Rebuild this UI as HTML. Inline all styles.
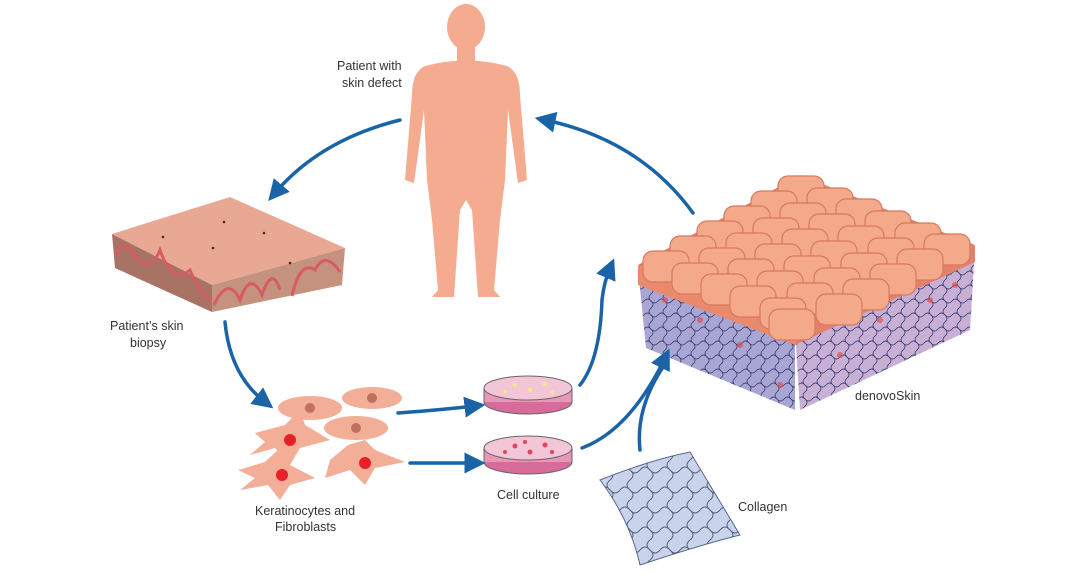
<!DOCTYPE html>
<html><head><meta charset="utf-8"><style>
html,body{margin:0;padding:0;background:#fff;width:1068px;height:580px;overflow:hidden}
svg text{font-family:"Liberation Sans",sans-serif;font-size:12.5px;fill:#333}
.tiles rect{width:46px;height:31px}
</style></head><body>
<svg width="1068" height="580" viewBox="0 0 1068 580" xmlns="http://www.w3.org/2000/svg">
<defs>
<marker id="ah" markerWidth="6" markerHeight="6" refX="3" refY="3" orient="auto" markerUnits="strokeWidth">
<path d="M0,0 L6,3 L0,6 Z" fill="#1a63a6"/></marker>
<pattern id="mesh" width="14" height="14" patternUnits="userSpaceOnUse">
<path d="M0,7 Q3.5,3 7,7 T14,7 M7,0 Q3,3.5 7,7 T7,14" fill="none" stroke="#3c3f78" stroke-width="0.9"/></pattern>
<pattern id="mesh2" width="20" height="20" patternUnits="userSpaceOnUse">
<path d="M0,10 Q5,4 10,10 T20,10 M10,0 Q4,5 10,10 T10,20" fill="none" stroke="#3a4060" stroke-width="1"/></pattern>
</defs>

<!-- human -->
<g fill="#f4ab8f">
<ellipse cx="466" cy="27" rx="19" ry="23"/>
<rect x="457" y="45" width="18" height="18"/>
<path d="M425,66 Q466,55 507,66 Q520,72 520,95 L527,180 L518,183 L508,110 L505,180 L500,220 L494,290 L500,297 L478,297 L472,210 L466,200 L460,210 L454,297 L432,297 L438,290 L432,220 L427,180 L424,110 L414,183 L405,180 L412,95 Q412,72 425,66Z"/>
</g>

<!-- skin biopsy -->
<path d="M112,234 L230,197 L345,248 L212,285 Z" fill="#e9a894"/>
<path d="M112,234 L212,285 L212,312 L115,268 Z" fill="#a87362"/>
<path d="M212,285 L345,248 L342,285 L212,312 Z" fill="#c59280"/>
<path d="M115,255 Q125,238 135,255 Q150,275 160,250 Q172,285 190,270 Q200,295 212,300" fill="none" stroke="#d85a62" stroke-width="3"/>
<path d="M214,305 Q228,275 240,300 Q250,270 262,295 Q272,265 280,290 M292,296 Q300,260 315,270 Q325,250 340,272" fill="none" stroke="#d85a62" stroke-width="3"/>
<g fill="#4a2a20"><circle cx="224" cy="222" r="1.3"/><circle cx="163" cy="237" r="1.3"/><circle cx="213" cy="248" r="1.3"/><circle cx="264" cy="233" r="1.3"/><circle cx="290" cy="263" r="1.3"/></g>

<!-- denovoSkin -->
<path d="M638,268 L795,330 L795,410 L646,348 Z" fill="#a9a6d4"/>
<path d="M795,330 L975,248 L970,330 L800,410 Z" fill="#c7b0d4"/>
<path d="M638,268 L795,330 L795,410 L646,348 Z" fill="url(#mesh)"/>
<path d="M795,330 L975,248 L970,330 L800,410 Z" fill="url(#mesh)"/>
<path d="M638,265 L800,175 L975,245 L795,330 Z" fill="#d9806a"/>
<path d="M638,265 L795,330 L795,345 L638,285 Z" fill="#e98a6c"/>
<path d="M795,330 L975,245 L975,262 L795,345 Z" fill="#e3826a"/>
<g class="tiles" fill="#f5a98b" stroke="#d8795c" stroke-width="1.2" transform="translate(-3,-3)">
<rect x="781" y="179" width="40" height="27" rx="10"/>
<rect x="754" y="194" width="40" height="27" rx="10"/>
<rect x="810" y="191" width="40" height="27" rx="10"/>
<rect x="727" y="209" width="40" height="27" rx="10"/>
<rect x="783" y="206" width="40" height="27" rx="10"/>
<rect x="839" y="202" width="40" height="27" rx="10"/>
<rect x="700" y="224" width="40" height="27" rx="10"/>
<rect x="756" y="221" width="40" height="27" rx="10"/>
<rect x="812" y="217" width="40" height="27" rx="10"/>
<rect x="868" y="214" width="40" height="27" rx="10"/>
<rect x="673" y="239" width="40" height="27" rx="10"/>
<rect x="729" y="236" width="40" height="27" rx="10"/>
<rect x="785" y="232" width="40" height="27" rx="10"/>
<rect x="841" y="229" width="40" height="27" rx="10"/>
<rect x="898" y="226" width="40" height="27" rx="10"/>
<rect x="646" y="254" width="40" height="27" rx="10"/>
<rect x="702" y="251" width="40" height="27" rx="10"/>
<rect x="758" y="247" width="40" height="27" rx="10"/>
<rect x="814" y="244" width="40" height="27" rx="10"/>
<rect x="871" y="241" width="40" height="27" rx="10"/>
<rect x="927" y="237" width="40" height="27" rx="10"/>
<rect x="675" y="266" width="40" height="27" rx="10"/>
<rect x="731" y="262" width="40" height="27" rx="10"/>
<rect x="787" y="259" width="40" height="27" rx="10"/>
<rect x="844" y="256" width="40" height="27" rx="10"/>
<rect x="900" y="252" width="40" height="27" rx="10"/>
<rect x="704" y="277" width="40" height="27" rx="10"/>
<rect x="760" y="274" width="40" height="27" rx="10"/>
<rect x="817" y="271" width="40" height="27" rx="10"/>
<rect x="873" y="267" width="40" height="27" rx="10"/>
<rect x="733" y="289" width="40" height="27" rx="10"/>
<rect x="790" y="286" width="40" height="27" rx="10"/>
<rect x="846" y="282" width="40" height="27" rx="10"/>
<rect x="763" y="301" width="40" height="27" rx="10"/>
<rect x="819" y="297" width="40" height="27" rx="10"/>
<rect x="772" y="312" width="40" height="27" rx="10"/>
</g>
<g fill="#e05050" opacity="0.7"><circle cx="700" cy="320" r="3"/><circle cx="740" cy="345" r="3"/><circle cx="880" cy="320" r="3"/><circle cx="930" cy="300" r="3"/><circle cx="840" cy="355" r="3"/><circle cx="665" cy="300" r="3"/><circle cx="780" cy="385" r="3"/><circle cx="955" cy="285" r="3"/></g>
<text x="855" y="400">denovoSkin</text>

<!-- cells -->
<g fill="#f3ae98">
<ellipse cx="310" cy="408" rx="32" ry="12"/>
<ellipse cx="372" cy="398" rx="30" ry="11"/>
<ellipse cx="356" cy="428" rx="32" ry="12"/>
<path d="M255,433 L285,425 L300,410 L305,425 L330,440 L300,448 L290,465 L275,448 L250,455 L265,442Z"/>
<path d="M330,460 L348,445 L365,440 L375,450 L405,462 L375,468 L365,485 L350,470 L325,478Z"/>
<path d="M238,470 L265,462 L280,448 L290,465 L315,478 L290,485 L280,500 L268,485 L240,490 L255,478Z"/>
</g>
<g fill="#c07060"><circle cx="310" cy="408" r="5"/><circle cx="372" cy="398" r="5"/><circle cx="356" cy="428" r="5"/></g>
<g fill="#e8202a"><circle cx="290" cy="440" r="6"/><circle cx="365" cy="463" r="6"/><circle cx="282" cy="475" r="6"/></g>
<text x="255" y="515">Keratinocytes and</text>
<text x="275" y="531">Fibroblasts</text>

<!-- dishes -->
<g>
<ellipse cx="528" cy="402" rx="44" ry="12" fill="#d76b99"/>
<rect x="484" y="388" width="88" height="14" fill="#e797b8"/>
<ellipse cx="528" cy="388" rx="44" ry="12" fill="#f2c6d6" stroke="#666" stroke-width="1"/>
<path d="M484,388 L484,402 A44,12 0 0 0 572,402 L572,388" fill="none" stroke="#666"/>
<g fill="#f4e29a"><circle cx="515" cy="385" r="2.5"/><circle cx="530" cy="390" r="2.5"/><circle cx="545" cy="384" r="2.5"/><circle cx="505" cy="392" r="2"/><circle cx="552" cy="392" r="2"/></g>
</g>
<g>
<ellipse cx="528" cy="462" rx="44" ry="12" fill="#d76b99"/>
<rect x="484" y="448" width="88" height="14" fill="#e797b8"/>
<ellipse cx="528" cy="448" rx="44" ry="12" fill="#f2c6d6" stroke="#666" stroke-width="1"/>
<path d="M484,448 L484,462 A44,12 0 0 0 572,462 L572,448" fill="none" stroke="#666"/>
<g fill="#e2445a"><circle cx="515" cy="446" r="2.5"/><circle cx="530" cy="452" r="2.5"/><circle cx="545" cy="445" r="2.5"/><circle cx="505" cy="452" r="2"/><circle cx="552" cy="452" r="2"/><circle cx="525" cy="442" r="2"/></g>
</g>
<text x="497" y="499">Cell culture</text>

<!-- collagen -->
<path d="M600,480 Q650,460 690,452 L740,535 Q700,545 640,565 Q630,520 600,480Z" fill="#c9d4ea" stroke="#5a6690" stroke-width="1"/>
<path d="M600,480 Q650,460 690,452 L740,535 Q700,545 640,565 Q630,520 600,480Z" fill="url(#mesh2)" opacity="0.8"/>
<text x="738" y="511">Collagen</text>

<text x="337" y="70">Patient with</text>
<text x="342" y="87">skin defect</text>
<text x="110" y="330">Patient’s skin</text>
<text x="130" y="347">biopsy</text>

<!-- arrows -->
<g fill="none" stroke="#1a63a6" stroke-width="3.5" stroke-linecap="round">
<path d="M400,120 Q320,140 275,193" marker-end="url(#ah)"/>
<path d="M693,213 Q640,140 545,120" marker-end="url(#ah)"/>
<path d="M225,322 Q230,375 265,402" marker-end="url(#ah)"/>
<path d="M398,413 Q440,410 475,406" marker-end="url(#ah)"/>
<path d="M410,463 L475,463" marker-end="url(#ah)"/>
<path d="M580,385 Q600,360 602,300 Q604,282 610,268" marker-end="url(#ah)"/>
<path d="M582,448 Q630,430 665,358" marker-end="url(#ah)"/>
<path d="M640,450 Q635,405 668,360"/>
</g>
</svg>
</body></html>
